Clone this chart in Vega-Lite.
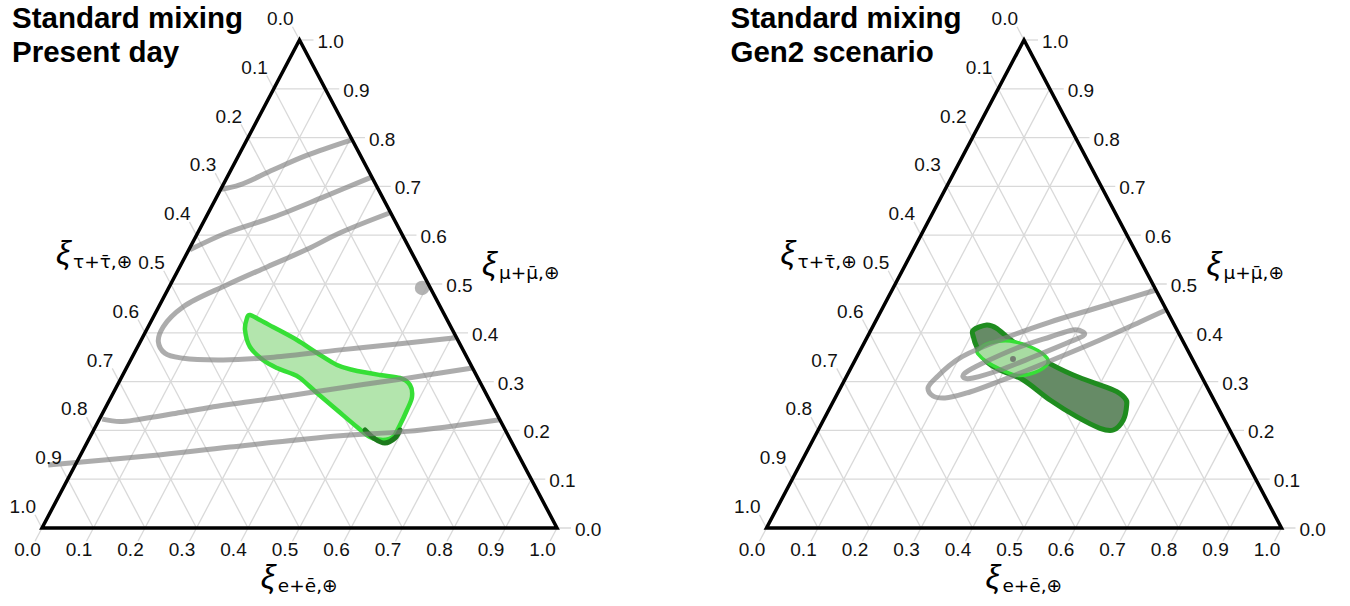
{
  "$schema": "https://vega.github.io/schema/vega-lite/v6.json",
  "padding": 0,
  "spacing": 0,
  "background": "white",
  "config": {"view": {"stroke": null}, "concat": {"spacing": 0}, "text": {"font": "Liberation Sans"}},
  "datasets": {
    "grid": [
      {"x":0,"y":0,"x2":1.0272,"y2":0},
      {"x":0.05,"y":0.1,"x2":0.9772,"y2":0.1},
      {"x":0.1,"y":0.2,"x2":0.9272,"y2":0.2},
      {"x":0.15,"y":0.3,"x2":0.8772,"y2":0.3},
      {"x":0.2,"y":0.4,"x2":0.8272,"y2":0.4},
      {"x":0.25,"y":0.5,"x2":0.7772,"y2":0.5},
      {"x":0.3,"y":0.6,"x2":0.7272,"y2":0.6},
      {"x":0.35,"y":0.7,"x2":0.6772,"y2":0.7},
      {"x":0.4,"y":0.8,"x2":0.6272,"y2":0.8},
      {"x":0.45,"y":0.9,"x2":0.5772,"y2":0.9},
      {"x":0.5,"y":1,"x2":0.5272,"y2":1},
      {"x":1,"y":0,"x2":0.4864,"y2":1.0272},
      {"x":0.9,"y":0,"x2":0.4364,"y2":0.9272},
      {"x":0.8,"y":0,"x2":0.3864,"y2":0.8272},
      {"x":0.7,"y":0,"x2":0.3364,"y2":0.7272},
      {"x":0.6,"y":0,"x2":0.2864,"y2":0.6272},
      {"x":0.5,"y":0,"x2":0.2364,"y2":0.5272},
      {"x":0.4,"y":0,"x2":0.1864,"y2":0.4272},
      {"x":0.3,"y":0,"x2":0.1364,"y2":0.3272},
      {"x":0.2,"y":0,"x2":0.0864,"y2":0.2272},
      {"x":0.1,"y":0,"x2":0.0364,"y2":0.1272},
      {"x":0,"y":0,"x2":-0.0136,"y2":0.0272},
      {"x":0.5,"y":1,"x2":-0.0136,"y2":-0.0272},
      {"x":0.55,"y":0.9,"x2":0.0864,"y2":-0.0272},
      {"x":0.6,"y":0.8,"x2":0.1864,"y2":-0.0272},
      {"x":0.65,"y":0.7,"x2":0.2864,"y2":-0.0272},
      {"x":0.7,"y":0.6,"x2":0.3864,"y2":-0.0272},
      {"x":0.75,"y":0.5,"x2":0.4864,"y2":-0.0272},
      {"x":0.8,"y":0.4,"x2":0.5864,"y2":-0.0272},
      {"x":0.85,"y":0.3,"x2":0.6864,"y2":-0.0272},
      {"x":0.9,"y":0.2,"x2":0.7864,"y2":-0.0272},
      {"x":0.95,"y":0.1,"x2":0.8864,"y2":-0.0272},
      {"x":1,"y":0,"x2":0.9864,"y2":-0.0272}
    ],
    "edge": [
      {"i":0,"x":0,"y":0},
      {"i":1,"x":1,"y":0},
      {"i":2,"x":0.5,"y":1}
    ],
    "labB": [
      {"x":0,"y":0,"t":"0.0"},{"x":0.1,"y":0,"t":"0.1"},{"x":0.2,"y":0,"t":"0.2"},{"x":0.3,"y":0,"t":"0.3"},
      {"x":0.4,"y":0,"t":"0.4"},{"x":0.5,"y":0,"t":"0.5"},{"x":0.6,"y":0,"t":"0.6"},{"x":0.7,"y":0,"t":"0.7"},
      {"x":0.8,"y":0,"t":"0.8"},{"x":0.9,"y":0,"t":"0.9"},{"x":1,"y":0,"t":"1.0"}
    ],
    "labR": [
      {"x":1,"y":0,"t":"0.0"},{"x":0.95,"y":0.1,"t":"0.1"},{"x":0.9,"y":0.2,"t":"0.2"},{"x":0.85,"y":0.3,"t":"0.3"},
      {"x":0.8,"y":0.4,"t":"0.4"},{"x":0.75,"y":0.5,"t":"0.5"},{"x":0.7,"y":0.6,"t":"0.6"},{"x":0.65,"y":0.7,"t":"0.7"},
      {"x":0.6,"y":0.8,"t":"0.8"},{"x":0.55,"y":0.9,"t":"0.9"},{"x":0.5,"y":1,"t":"1.0"}
    ],
    "labL": [
      {"x":0.5,"y":1,"t":"0.0"},{"x":0.45,"y":0.9,"t":"0.1"},{"x":0.4,"y":0.8,"t":"0.2"},{"x":0.35,"y":0.7,"t":"0.3"},
      {"x":0.3,"y":0.6,"t":"0.4"},{"x":0.25,"y":0.5,"t":"0.5"},{"x":0.2,"y":0.4,"t":"0.6"},{"x":0.15,"y":0.3,"t":"0.7"},
      {"x":0.1,"y":0.2,"t":"0.8"},{"x":0.05,"y":0.1,"t":"0.9"},{"x":0,"y":0,"t":"1.0"}
    ],
    "axt": [
      {"x":0.0272,"y":0.541,"sub":"τ+τ̄,⊕"},
      {"x":0.8544,"y":0.5184,"sub":"μ+μ̄,⊕"},
      {"x":0.425,"y":-0.123,"sub":"e+ē,⊕"}
    ],
    "curves": [
      {"panel":"L","seg":"A","i":0,"x":0.600,"y":0.795},
      {"panel":"L","seg":"A","i":1,"x":0.515,"y":0.764},
      {"panel":"L","seg":"A","i":2,"x":0.449,"y":0.734},
      {"panel":"L","seg":"A","i":3,"x":0.384,"y":0.703},
      {"panel":"L","seg":"A","i":4,"x":0.348,"y":0.694},
      {"panel":"L","seg":"B","i":0,"x":0.640,"y":0.719},
      {"panel":"L","seg":"B","i":1,"x":0.546,"y":0.678},
      {"panel":"L","seg":"B","i":2,"x":0.449,"y":0.637},
      {"panel":"L","seg":"B","i":3,"x":0.359,"y":0.605},
      {"panel":"L","seg":"B","i":4,"x":0.287,"y":0.570},
      {"panel":"L","seg":"C","i":0,"x":0.676,"y":0.646},
      {"panel":"L","seg":"C","i":1,"x":0.579,"y":0.605},
      {"panel":"L","seg":"C","i":2,"x":0.5146,"y":0.571},
      {"panel":"L","seg":"C","i":3,"x":0.437,"y":0.535},
      {"panel":"L","seg":"C","i":4,"x":0.3586,"y":0.498},
      {"panel":"L","seg":"C","i":5,"x":0.2744,"y":0.4535},
      {"panel":"L","seg":"C","i":6,"x":0.2355,"y":0.4125},
      {"panel":"L","seg":"C","i":7,"x":0.2259,"y":0.3818},
      {"panel":"L","seg":"C","i":8,"x":0.2388,"y":0.358},
      {"panel":"L","seg":"C","i":9,"x":0.2744,"y":0.3477},
      {"panel":"L","seg":"C","i":10,"x":0.352,"y":0.3443},
      {"panel":"L","seg":"C","i":11,"x":0.45,"y":0.350},
      {"panel":"L","seg":"C","i":12,"x":0.579,"y":0.365},
      {"panel":"L","seg":"C","i":13,"x":0.709,"y":0.379},
      {"panel":"L","seg":"C","i":14,"x":0.803,"y":0.390},
      {"panel":"L","seg":"D","i":0,"x":0.836,"y":0.328},
      {"panel":"L","seg":"D","i":1,"x":0.709,"y":0.307},
      {"panel":"L","seg":"D","i":2,"x":0.579,"y":0.287},
      {"panel":"L","seg":"D","i":3,"x":0.449,"y":0.266},
      {"panel":"L","seg":"D","i":4,"x":0.320,"y":0.246},
      {"panel":"L","seg":"D","i":5,"x":0.254,"y":0.234},
      {"panel":"L","seg":"D","i":6,"x":0.190,"y":0.223},
      {"panel":"L","seg":"D","i":7,"x":0.151,"y":0.218},
      {"panel":"L","seg":"D","i":8,"x":0.117,"y":0.223},
      {"panel":"L","seg":"E","i":0,"x":0.889,"y":0.222},
      {"panel":"L","seg":"E","i":1,"x":0.709,"y":0.198},
      {"panel":"L","seg":"E","i":2,"x":0.579,"y":0.189},
      {"panel":"L","seg":"E","i":3,"x":0.365,"y":0.166},
      {"panel":"L","seg":"E","i":4,"x":0.210,"y":0.148},
      {"panel":"L","seg":"E","i":5,"x":0.012,"y":0.129},
      {"panel":"R","seg":"O","i":0,"x":0.7563,"y":0.4877},
      {"panel":"R","seg":"O","i":1,"x":0.6476,"y":0.4529},
      {"panel":"R","seg":"O","i":2,"x":0.5505,"y":0.4221},
      {"panel":"R","seg":"O","i":3,"x":0.4534,"y":0.3852},
      {"panel":"R","seg":"O","i":4,"x":0.3757,"y":0.3484},
      {"panel":"R","seg":"O","i":5,"x":0.3330,"y":0.3115},
      {"panel":"R","seg":"O","i":6,"x":0.3136,"y":0.2869},
      {"panel":"R","seg":"O","i":7,"x":0.3233,"y":0.2705},
      {"panel":"R","seg":"O","i":8,"x":0.3466,"y":0.2664},
      {"panel":"R","seg":"O","i":9,"x":0.3951,"y":0.2787},
      {"panel":"R","seg":"O","i":10,"x":0.4534,"y":0.3012},
      {"panel":"R","seg":"O","i":11,"x":0.5505,"y":0.3422},
      {"panel":"R","seg":"O","i":12,"x":0.6476,"y":0.3852},
      {"panel":"R","seg":"O","i":13,"x":0.7252,"y":0.4221},
      {"panel":"R","seg":"O","i":14,"x":0.7757,"y":0.4467}
    ],
    "loopR": [
      {"i":0,"x":0.6146,"y":0.4016},
      {"i":1,"x":0.5951,"y":0.4057},
      {"i":2,"x":0.5505,"y":0.3914},
      {"i":3,"x":0.4864,"y":0.3689},
      {"i":4,"x":0.4204,"y":0.3381},
      {"i":5,"x":0.3854,"y":0.3176},
      {"i":6,"x":0.3835,"y":0.3074},
      {"i":7,"x":0.4010,"y":0.3074},
      {"i":8,"x":0.4534,"y":0.3238},
      {"i":9,"x":0.5175,"y":0.3504},
      {"i":10,"x":0.5835,"y":0.3791},
      {"i":11,"x":0.6146,"y":0.3934}
    ],
    "gL": [
      {"i":0,"x":0.4039,"y":0.4365},
      {"i":1,"x":0.4233,"y":0.4262},
      {"i":2,"x":0.4485,"y":0.4119},
      {"i":3,"x":0.4951,"y":0.3852},
      {"i":4,"x":0.5340,"y":0.3586},
      {"i":5,"x":0.5728,"y":0.3340},
      {"i":6,"x":0.6039,"y":0.3238},
      {"i":7,"x":0.6563,"y":0.3135},
      {"i":8,"x":0.6951,"y":0.3074},
      {"i":9,"x":0.7146,"y":0.2930},
      {"i":10,"x":0.7184,"y":0.2684},
      {"i":11,"x":0.7087,"y":0.2418},
      {"i":12,"x":0.6951,"y":0.2111},
      {"i":13,"x":0.6816,"y":0.1865},
      {"i":14,"x":0.6621,"y":0.1803},
      {"i":15,"x":0.6369,"y":0.1865},
      {"i":16,"x":0.6117,"y":0.2070},
      {"i":17,"x":0.5728,"y":0.2418},
      {"i":18,"x":0.5340,"y":0.2766},
      {"i":19,"x":0.5010,"y":0.3074},
      {"i":20,"x":0.4816,"y":0.3176},
      {"i":21,"x":0.4563,"y":0.3279},
      {"i":22,"x":0.4291,"y":0.3443},
      {"i":23,"x":0.4039,"y":0.3709},
      {"i":24,"x":0.3942,"y":0.4057},
      {"i":25,"x":0.3981,"y":0.4303}
    ],
    "darkL": [
      {"i":0,"x":0.6272,"y":0.2008},
      {"i":1,"x":0.6466,"y":0.1824},
      {"i":2,"x":0.6660,"y":0.1742},
      {"i":3,"x":0.6854,"y":0.1844},
      {"i":4,"x":0.6951,"y":0.2008}
    ],
    "gRdark": [
      {"i":0,"x":0.4016,"y":0.4057},
      {"i":1,"x":0.4276,"y":0.4160},
      {"i":2,"x":0.4470,"y":0.4092},
      {"i":3,"x":0.4792,"y":0.3818},
      {"i":4,"x":0.5311,"y":0.3477},
      {"i":5,"x":0.5957,"y":0.3135},
      {"i":6,"x":0.6734,"y":0.2828},
      {"i":7,"x":0.6961,"y":0.2658},
      {"i":8,"x":0.6994,"y":0.2520},
      {"i":9,"x":0.6928,"y":0.2213},
      {"i":10,"x":0.6734,"y":0.2008},
      {"i":11,"x":0.6476,"y":0.2043},
      {"i":12,"x":0.6023,"y":0.2281},
      {"i":13,"x":0.5505,"y":0.2623},
      {"i":14,"x":0.4986,"y":0.3033},
      {"i":15,"x":0.4534,"y":0.3238},
      {"i":16,"x":0.4276,"y":0.3408},
      {"i":17,"x":0.4082,"y":0.3715},
      {"i":18,"x":0.4016,"y":0.3920}
    ],
    "gRlight": [
      {"i":0,"x":0.4107,"y":0.3648},
      {"i":1,"x":0.4340,"y":0.3791},
      {"i":2,"x":0.4728,"y":0.3832},
      {"i":3,"x":0.5175,"y":0.3689},
      {"i":4,"x":0.5447,"y":0.3484},
      {"i":5,"x":0.5427,"y":0.3320},
      {"i":6,"x":0.5117,"y":0.3156},
      {"i":7,"x":0.4825,"y":0.3135},
      {"i":8,"x":0.4534,"y":0.3258},
      {"i":9,"x":0.4282,"y":0.3402},
      {"i":10,"x":0.4107,"y":0.3566}
    ],
    "dotL": [{"x":0.738,"y":0.492}],
    "dotR": [{"x":0.4786,"y":0.3463}]
  },
  "hconcat": [
    {
      "width": 675,
      "height": 606,
      "encoding": {
        "x": {"field": "x", "type": "quantitative", "scale": {"domain": [-0.08155, 1.22913], "nice": false, "zero": false}, "axis": null},
        "y": {"field": "y", "type": "quantitative", "scale": {"domain": [-0.15984, 1.08197], "nice": false, "zero": false}, "axis": null}
      },
      "layer": [
        {"data": {"name": "grid"}, "mark": {"type": "rule", "stroke": "#d9d9d9", "strokeWidth": 1.3}, "encoding": {"x2": {"field": "x2"}, "y2": {"field": "y2"}}},
        {"data": {"name": "gL"}, "mark": {"type": "line", "interpolate": "cardinal-closed", "fill": "#b3e5ad", "stroke": "#36df36", "strokeWidth": 4.5}, "encoding": {"order": {"field": "i", "type": "quantitative"}}},
        {"data": {"name": "darkL"}, "mark": {"type": "line", "interpolate": "cardinal", "stroke": "#1d7a1d", "strokeWidth": 5, "strokeCap": "round"}, "encoding": {"order": {"field": "i", "type": "quantitative"}}},
        {"data": {"name": "dotL"}, "mark": {"type": "point", "filled": true, "color": "#a6a6a6", "opacity": 0.85, "size": 210, "strokeWidth": 0}},
        {"data": {"name": "curves"}, "transform": [{"filter": "datum.panel == 'L'"}], "mark": {"type": "line", "interpolate": "catmull-rom", "stroke": "#808080", "opacity": 0.65, "strokeWidth": 5, "strokeCap": "butt"}, "encoding": {"detail": {"field": "seg"}, "order": {"field": "i", "type": "quantitative"}}},
        {"data": {"name": "edge"}, "mark": {"type": "line", "interpolate": "linear-closed", "stroke": "black", "strokeWidth": 3.5, "strokeJoin": "miter"}, "encoding": {"order": {"field": "i", "type": "quantitative"}}},
        {"data": {"name": "labB"}, "mark": {"type": "text", "align": "center", "baseline": "middle", "dx": -14.5, "dy": 22, "fontSize": 19, "color": "#111111"}, "encoding": {"text": {"field": "t"}}},
        {"data": {"name": "labR"}, "mark": {"type": "text", "align": "left", "baseline": "middle", "dx": 18, "dy": 2, "fontSize": 19, "color": "#111111"}, "encoding": {"text": {"field": "t"}}},
        {"data": {"name": "labL"}, "mark": {"type": "text", "align": "right", "baseline": "middle", "dx": -6, "dy": -21, "fontSize": 19, "color": "#111111"}, "encoding": {"text": {"field": "t"}}},
        {"data": {"name": "axt"}, "mark": {"type": "text", "text": "ξ", "align": "left", "baseline": "alphabetic", "fontSize": 33, "fontStyle": "italic", "color": "black"}},
        {"data": {"name": "axt"}, "mark": {"type": "text", "align": "left", "baseline": "alphabetic", "dx": 17, "dy": 4, "fontSize": 18.5, "font": "DejaVu Sans", "color": "black"}, "encoding": {"text": {"field": "sub"}}},
        {"data": {"values": [{"x": -0.0583, "y": 1.0246, "t": "Standard mixing"}, {"x": -0.0583, "y": 0.955, "t": "Present day"}]}, "mark": {"type": "text", "align": "left", "baseline": "alphabetic", "fontSize": 29.5, "fontWeight": "bold", "color": "black"}, "encoding": {"text": {"field": "t"}}}
      ]
    },
    {
      "width": 675,
      "height": 606,
      "encoding": {
        "x": {"field": "x", "type": "quantitative", "scale": {"domain": [-0.17767, 1.13301], "nice": false, "zero": false}, "axis": null},
        "y": {"field": "y", "type": "quantitative", "scale": {"domain": [-0.15984, 1.08197], "nice": false, "zero": false}, "axis": null}
      },
      "layer": [
        {"data": {"name": "grid"}, "mark": {"type": "rule", "stroke": "#d9d9d9", "strokeWidth": 1.3}, "encoding": {"x2": {"field": "x2"}, "y2": {"field": "y2"}}},
        {"data": {"name": "gRdark"}, "mark": {"type": "line", "interpolate": "cardinal-closed", "fill": "#668b66", "stroke": "#1f8c1f", "strokeWidth": 5}, "encoding": {"order": {"field": "i", "type": "quantitative"}}},
        {"data": {"name": "gRlight"}, "mark": {"type": "line", "interpolate": "cardinal-closed", "fill": "#a8dca2", "stroke": "#36df36", "strokeWidth": 3.5}, "encoding": {"order": {"field": "i", "type": "quantitative"}}},
        {"data": {"name": "curves"}, "transform": [{"filter": "datum.panel == 'R'"}], "mark": {"type": "line", "interpolate": "catmull-rom", "stroke": "#808080", "opacity": 0.65, "strokeWidth": 5, "strokeCap": "butt"}, "encoding": {"detail": {"field": "seg"}, "order": {"field": "i", "type": "quantitative"}}},
        {"data": {"name": "loopR"}, "mark": {"type": "line", "interpolate": "cardinal-closed", "stroke": "#808080", "opacity": 0.65, "strokeWidth": 5}, "encoding": {"order": {"field": "i", "type": "quantitative"}}},
        {"data": {"name": "dotR"}, "mark": {"type": "point", "filled": true, "color": "#666666", "opacity": 0.8, "size": 35, "strokeWidth": 0}},
        {"data": {"name": "edge"}, "mark": {"type": "line", "interpolate": "linear-closed", "stroke": "black", "strokeWidth": 3.5, "strokeJoin": "miter"}, "encoding": {"order": {"field": "i", "type": "quantitative"}}},
        {"data": {"name": "labB"}, "mark": {"type": "text", "align": "center", "baseline": "middle", "dx": -14.5, "dy": 22, "fontSize": 19, "color": "#111111"}, "encoding": {"text": {"field": "t"}}},
        {"data": {"name": "labR"}, "mark": {"type": "text", "align": "left", "baseline": "middle", "dx": 18, "dy": 2, "fontSize": 19, "color": "#111111"}, "encoding": {"text": {"field": "t"}}},
        {"data": {"name": "labL"}, "mark": {"type": "text", "align": "right", "baseline": "middle", "dx": -6, "dy": -21, "fontSize": 19, "color": "#111111"}, "encoding": {"text": {"field": "t"}}},
        {"data": {"name": "axt"}, "mark": {"type": "text", "text": "ξ", "align": "left", "baseline": "alphabetic", "fontSize": 33, "fontStyle": "italic", "color": "black"}},
        {"data": {"name": "axt"}, "mark": {"type": "text", "align": "left", "baseline": "alphabetic", "dx": 17, "dy": 4, "fontSize": 18.5, "font": "DejaVu Sans", "color": "black"}, "encoding": {"text": {"field": "sub"}}},
        {"data": {"values": [{"x": -0.0699, "y": 1.0246, "t": "Standard mixing"}, {"x": -0.0699, "y": 0.955, "t": "Gen2 scenario"}]}, "mark": {"type": "text", "align": "left", "baseline": "alphabetic", "fontSize": 29.5, "fontWeight": "bold", "color": "black"}, "encoding": {"text": {"field": "t"}}}
      ]
    }
  ]
}
